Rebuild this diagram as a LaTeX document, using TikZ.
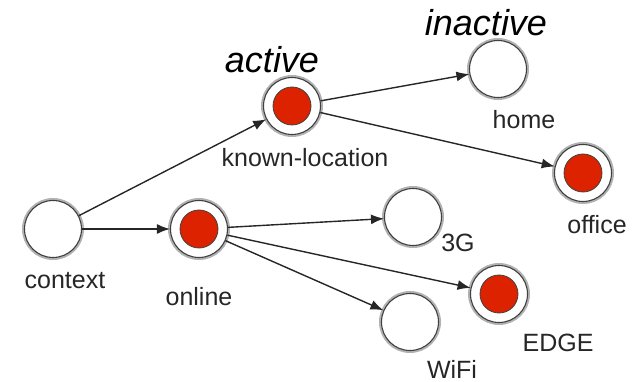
\documentclass[tikz,border=0pt]{standalone}
\usepackage{fontspec}
\setmainfont{Liberation Sans}
\usepackage{tikz}
\usetikzlibrary{arrows.meta}
\definecolor{dotred}{HTML}{DD2200}

\begin{document}
\begin{tikzpicture}[x=1pt, y=-1pt,
  state/.style={circle, draw=black!75, line width=1.1pt, fill=white, minimum size=57pt, inner sep=0pt,
    preaction={draw=black!30, line width=5pt}},
  activestate/.style={state, path picture={\draw[fill=dotred, line width=0.8pt] (path picture bounding box.center) circle (19pt);}},
  lbl/.style={text=black!85, font=\fontsize{25}{30}\selectfont, inner sep=0pt},
  tag/.style={font=\fontsize{36}{42}\selectfont\itshape, inner sep=0pt},
  link/.style={-{Latex[length=13pt, width=10pt]}, line width=1.4pt, black!85}]
  \useasboundingbox (0,0) rectangle (635,382);
  % states
  \node[state] (context) at (53,229) {};
  \node[activestate] (online) at (199,229) {};
  \node[activestate] (known) at (292,106) {};
  \node[state] (home) at (498,69) {};
  \node[activestate] (office) at (583,173) {};
  \node[state] (threeg) at (413,217) {};
  \node[activestate] (edgenet) at (499,294) {};
  \node[state] (wifi) at (410,322) {};
  % labels
  \node[lbl] (contextlbl) at ([shift={(12,52)}]context) {context};
  \node[lbl] (onlinelbl) at ([shift={(0,68)}]online) {online};
  \node[lbl] (knownlbl) at ([shift={(13,52)}]known) {known-location};
  \node[lbl] (homelbl) at ([shift={(26,51)}]home) {home};
  \node[lbl] (officelbl) at ([shift={(14,52)}]office) {office};
  \node[lbl] (threeglbl) at ([shift={(45,26)}]threeg) {3G};
  \node[lbl] (edgelbl) at ([shift={(59,49)}]edgenet) {EDGE};
  \node[lbl] (wifilbl) at ([shift={(42,47)}]wifi) {WiFi};
  \node[tag] (activetag) at (272,60) {active};
  \node[tag] (inactivetag) at (486,23) {inactive};
  % transitions
  \draw[link] (context) -- (known);
  \draw[link] (context) -- (online);
  \draw[link] (known) -- (home);
  \draw[link] (known) -- (office);
  \draw[link] (online) -- (threeg);
  \draw[link] (online) -- (edgenet);
  \draw[link] (online) -- (wifi);
\end{tikzpicture}
\end{document}
